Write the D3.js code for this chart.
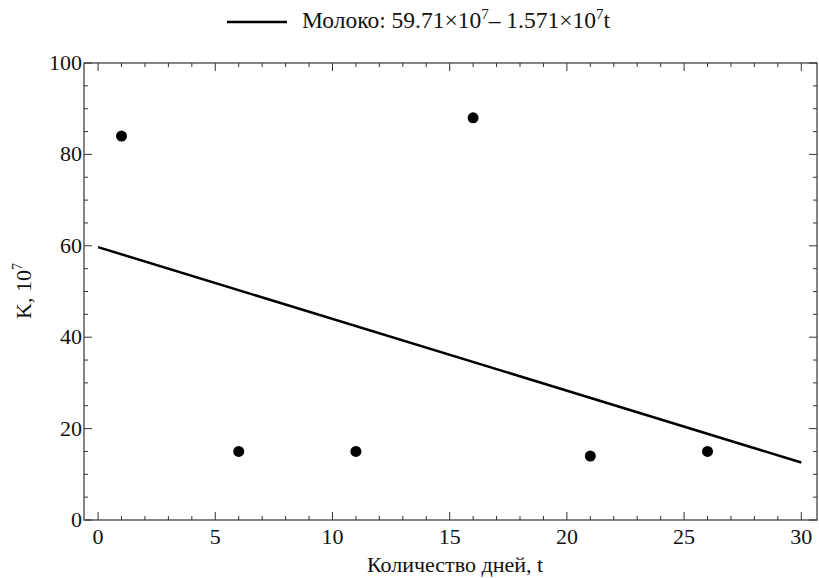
<!DOCTYPE html>
<html>
<head>
<meta charset="utf-8">
<script src="https://cdn.jsdelivr.net/npm/d3@7"></script>
<style>
  body { margin: 0; background: #fff; }
  svg text { font-family: 'Liberation Serif', 'Times New Roman', 'DejaVu Serif', serif; fill: #111; }
</style>
</head>
<body>
<svg id="chart" width="819" height="578"></svg>
<script>
// measured points (days, K in 10^7)
let days = [1, 6, 11, 16, 21, 26]
let kValues = [84, 15, 15, 88, 14, 15]

// fitted line: 59.71 - 1.571 t
let fitA = 59.71
let fitB = 1.571
let fitDays = [0, 30]

let xTicks = [0, 5, 10, 15, 20, 25, 30]
let yTicks = [0, 20, 40, 60, 80, 100]

let plotLeft = 84, plotRight = 817, plotTop = 63, plotBottom = 520
let fs = 22

let svg = d3.select('#chart')

let x = d3.scaleLinear().domain([-0.6, 30.67]).range([plotLeft, plotRight])
let y = d3.scaleLinear().domain([0, 100]).range([plotBottom, plotTop])

// frame
svg.append('rect')
  .attr('x', plotLeft).attr('y', plotTop)
  .attr('width', plotRight - plotLeft).attr('height', plotBottom - plotTop)
  .attr('fill', 'none').attr('stroke', '#333').attr('stroke-width', 1.2)

let xMinor = d3.range(0, 31, 1)
let yMinor = d3.range(0, 101, 5)

// ticks, drawn inward on all four sides
let tickG = svg.append('g').attr('stroke', '#333').attr('stroke-width', 1)
xMinor.forEach(d => {
  let len = d % 5 === 0 ? 8 : 4
  tickG.append('line').attr('x1', x(d)).attr('x2', x(d)).attr('y1', plotBottom).attr('y2', plotBottom - len)
  tickG.append('line').attr('x1', x(d)).attr('x2', x(d)).attr('y1', plotTop).attr('y2', plotTop + len)
})
yMinor.forEach(d => {
  let len = d % 20 === 0 ? 8 : 4
  tickG.append('line').attr('y1', y(d)).attr('y2', y(d)).attr('x1', plotLeft).attr('x2', plotLeft + len)
  tickG.append('line').attr('y1', y(d)).attr('y2', y(d)).attr('x1', plotRight).attr('x2', plotRight - len)
})

// tick labels
svg.selectAll('.xl').data(xTicks).enter().append('text')
  .attr('x', d => x(d)).attr('y', plotBottom + 24)
  .attr('text-anchor', 'middle').attr('font-size', fs)
  .text(d => d)

svg.selectAll('.yl').data(yTicks).enter().append('text')
  .attr('x', plotLeft - 2).attr('y', d => y(d) + 7)
  .attr('text-anchor', 'end').attr('font-size', fs)
  .text(d => d)

// axis titles
svg.append('text')
  .attr('x', 455).attr('y', 572)
  .attr('text-anchor', 'middle').attr('font-size', fs)
  .text('Количество дней, t')

let yt = svg.append('text')
  .attr('transform', 'translate(31,291) rotate(-90)')
  .attr('text-anchor', 'middle').attr('font-size', fs)
yt.append('tspan').text('K, 10')
yt.append('tspan').attr('font-size', 14).attr('dy', -9).text('7')

// fit line
let line = d3.line().x(d => x(d)).y(d => y(fitA - fitB * d))
svg.append('path')
  .datum(fitDays)
  .attr('d', line)
  .attr('fill', 'none').attr('stroke', '#000').attr('stroke-width', 2.5)

// points
svg.selectAll('circle').data(days).enter().append('circle')
  .attr('cx', d => x(d))
  .attr('cy', (d, i) => y(kValues[i]))
  .attr('r', 5.5)
  .attr('fill', '#000')

// legend
svg.append('line')
  .attr('x1', 227).attr('x2', 287).attr('y1', 22).attr('y2', 22)
  .attr('stroke', '#000').attr('stroke-width', 2.5)
let lg = svg.append('text').attr('x', 302).attr('y', 28).attr('font-size', 23.5)
lg.append('tspan').text('Молоко: 59.71×10')
lg.append('tspan').attr('font-size', 15).attr('dy', -9).text('7')
lg.append('tspan').attr('dy', 9).text('– 1.571×10')
lg.append('tspan').attr('font-size', 15).attr('dy', -9).text('7')
lg.append('tspan').attr('dy', 9).text('t')
</script>
</body>
</html>
